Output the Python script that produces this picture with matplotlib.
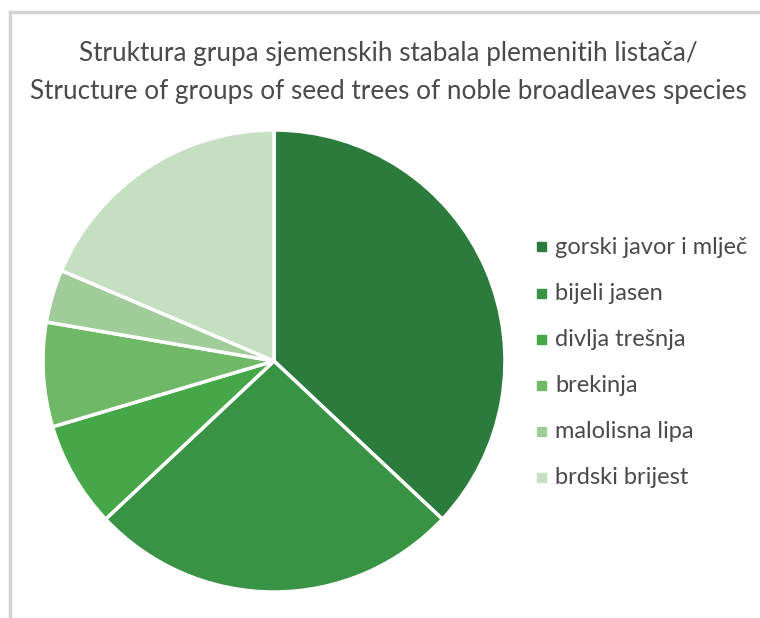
import matplotlib
matplotlib.use("Agg")
import matplotlib.pyplot as plt
from matplotlib.lines import Line2D
from matplotlib.patches import Rectangle

categories = ["gorski javor i mlječ", "bijeli jasen", "divlja trešnja",
              "brekinja", "malolisna lipa", "brdski brijest"]
values = [37.0, 26.0, 7.4, 7.3, 3.7, 18.6]
colors = ["#2a7b3c", "#389444", "#45a748", "#6fb966", "#a0cc99", "#c4e0c1"]
title_lines = ["Struktura grupa sjemenskih stabala plemenitih listača/",
               "Structure of groups of seed trees of noble broadleaves species"]

W, H = 760, 618
fig = plt.figure(figsize=(W / 100, H / 100), dpi=100)
fig.patch.set_facecolor("white")

# frame lines (gray border top and left)
fig.add_artist(Line2D([10 / W, 1.0], [1 - 12 / H, 1 - 12 / H], color="#d2d2d2", lw=2.5))
fig.add_artist(Line2D([10 / W, 10 / W], [0, 1 - 12 / H], color="#d2d2d2", lw=2.5))

cx, cy, r = 274, 361, 231
ax = fig.add_axes([(cx - r) / W, (H - cy - r) / H, 2 * r / W, 2 * r / H])
ax.pie(values, colors=colors, startangle=90, counterclock=False, radius=1,
       wedgeprops=dict(edgecolor="white", linewidth=2.5))
ax.set_xlim(-1, 1)
ax.set_ylim(-1, 1)
ax.set_aspect("equal")
ax.axis("off")

for line, y in zip(title_lines, [53, 92]):
    fig.text(388 / W, 1 - y / H, line, ha="center", va="center", fontsize=18.8,
             family="Lato", color="#4a4a4a")

ys = [247, 294, 340, 386, 432, 478]
for lab, col, y in zip(categories, colors, ys):
    fig.add_artist(Rectangle((537 / W, 1 - (y + 4) / H), 9 / W, 9 / H, color=col,
                             transform=fig.transFigure))
    fig.text(555 / W, 1 - y / H, lab, ha="left", va="center", fontsize=17,
             family="Lato", color="#4a4a4a")

fig.savefig("out.png", dpi=100, facecolor="white")
